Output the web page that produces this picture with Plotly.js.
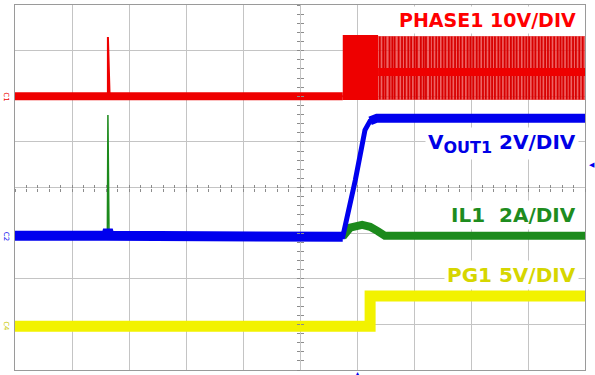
<!DOCTYPE html>
<html>
<head>
<meta charset="utf-8">
<script src="https://cdn.plot.ly/plotly-3.0.1.min.js"></script>
<style>html,body{margin:0;padding:0;background:#fff;}#chart{width:595px;height:375px;}</style>
</head>
<body>
<div id="chart"></div>
<script>
// ---- data (time in divisions, level in divisions from bottom) ----
const channelNames = ["PHASE1 10V/DIV", "V<sub><span style=\"font-size:16px\">OUT1</span></sub> 2V/DIV", "IL1&nbsp;&nbsp;2A/DIV", "PG1 5V/DIV"];

// PHASE1 (red)
const phaseBaseX = [0, 1.60, 1.63, 1.63, 1.66, 5.75];
const phaseBaseY = [6.0, 6.0, 6.0, 7.30, 6.0, 6.0];
const phaseBurstX = [5.75, 6.37, 6.37, 5.75];
const phaseBurstY = [5.92, 5.92, 7.34, 7.34];
const phaseSwitchX = [6.37, 10.0, 10.0, 6.37];
const phaseSwitchY = [5.92, 5.92, 7.32, 7.32];
const phasePulses = [6.40, 6.46, 6.50, 6.57, 6.62, 6.66, 6.73, 6.79, 6.84, 6.90, 6.95, 7.01, 7.05, 7.12,
  7.17, 7.21, 7.28, 7.33, 7.39, 7.44, 7.50, 7.55, 7.61, 7.66, 7.72, 7.77, 7.82, 7.88, 7.94, 7.99,
  8.04, 8.10, 8.15, 8.21, 8.26, 8.32, 8.37, 8.42, 8.48, 8.53, 8.59, 8.64, 8.70, 8.75, 8.80, 8.86,
  8.92, 8.97, 9.02, 9.08, 9.13, 9.19, 9.24, 9.30, 9.35, 9.40, 9.46, 9.52, 9.57, 9.62, 9.68, 9.73,
  9.79, 9.84, 9.90, 9.96];
const pulseLow = 5.93, pulseHigh = 7.31;
const phaseMidX = [6.37, 10.0];
const phaseMidY = [6.53, 6.53];

// VOUT1 (blue)
const voutX = [0, 1.60, 1.63, 1.66, 5.75, 5.97, 6.14, 6.23, 6.35, 10.0];
const voutY = [2.94, 2.94, 3.07, 2.94, 2.92, 4.16, 5.26, 5.46, 5.52, 5.52];

// IL1 (green)
const ilX = [0, 1.61, 1.62, 1.63, 1.64, 1.65, 5.75, 5.88, 6.09, 6.23, 6.37, 6.49, 10.0];
const ilY = [2.92, 2.92, 2.92, 5.59, 2.92, 2.92, 2.92, 3.12, 3.18, 3.14, 3.04, 2.94, 2.94];

// PG1 (yellow)
const pgX = [0, 6.23, 6.23, 10.0];
const pgY = [0.96, 0.96, 1.62, 1.62];

// ---- build pulse segments from the pulse list ----
const pulseX = [], pulseY = [];
phasePulses.forEach(function (t) { pulseX.push(t, t, null); pulseY.push(pulseLow, pulseHigh, null); });

const RED = "#ee0000", BLUE = "#0000ee", GREEN = "#1c8a1c", YEL = "#f2f200";

const traces = [
  {x: phaseSwitchX, y: phaseSwitchY, mode: "lines", fill: "toself", fillcolor: "rgba(232,40,40,0.72)", line: {width: 0}, hoverinfo: "skip"},
  {x: pulseX, y: pulseY, mode: "lines", line: {color: "#d80000", width: 1.8}, hoverinfo: "skip"},
  {x: phaseBurstX, y: phaseBurstY, mode: "lines", fill: "toself", fillcolor: RED, line: {width: 0}, hoverinfo: "skip"},
  {x: phaseMidX, y: phaseMidY, mode: "lines", line: {color: RED, width: 8}, hoverinfo: "skip"},
  {x: phaseBaseX, y: phaseBaseY, mode: "lines", line: {color: RED, width: 2}, hoverinfo: "skip"},
  {x: phaseBaseX.slice(0, 2).concat(phaseBaseX.slice(5)), y: phaseBaseY.slice(0, 2).concat(phaseBaseY.slice(5)), mode: "lines", line: {color: RED, width: 8}, hoverinfo: "skip"},
  {x: pgX, y: pgY, mode: "lines", line: {color: YEL, width: 11}, hoverinfo: "skip"},
  {x: ilX, y: ilY, mode: "lines", line: {color: GREEN, width: 1.5}, hoverinfo: "skip"},
  {x: ilX.slice(6), y: ilY.slice(6), mode: "lines", line: {color: GREEN, width: 8}, hoverinfo: "skip"},
  // VOUT1: thin stroke for the ramp, thick noisy band for the flat parts
  {x: voutX, y: voutY, mode: "lines", line: {color: BLUE, width: 5}, hoverinfo: "skip"},
  {x: voutX.slice(0, 5), y: voutY.slice(0, 5), mode: "lines", line: {color: BLUE, width: 10}, hoverinfo: "skip"},
  {x: voutX.slice(7), y: voutY.slice(7), mode: "lines", line: {color: BLUE, width: 9}, hoverinfo: "skip"},
  {x: [], y: [], xaxis: "x2", yaxis: "y", hoverinfo: "skip"},
  {x: [], y: [], xaxis: "x3", yaxis: "y", hoverinfo: "skip"},
  {x: [], y: [], xaxis: "x", yaxis: "y2", hoverinfo: "skip"},
  {x: [], y: [], xaxis: "x", yaxis: "y3", hoverinfo: "skip"}
];

const tickAx = {range: [0, 10], dtick: 0.2, tick0: 0, ticklen: 3, tickcolor: "#8c8c8c", tickwidth: 1,
  showgrid: false, showline: false, zeroline: false, showticklabels: false, overlaying: "x", anchor: "free", position: 0.5, fixedrange: true};
const tickAy = {range: [0, 8], dtick: 0.2, tick0: 0, ticklen: 3, tickcolor: "#8c8c8c", tickwidth: 1,
  showgrid: false, showline: false, zeroline: false, showticklabels: false, overlaying: "y", anchor: "free", position: 0.5, fixedrange: true};

function label(text, y, color, size) {
  return {text: "<b>" + text + "</b>", x: 9.9, y: y, xref: "x", yref: "y", xanchor: "right", yanchor: "middle",
    showarrow: false, bgcolor: "#ffffff", borderpad: 2,
    font: {family: "DejaVu Sans, Verdana, sans-serif", size: size, weight: "bold", color: color}};
}

const layout = {
  width: 595, height: 375,
  margin: {l: 15, r: 10, t: 5, b: 5},
  paper_bgcolor: "#ffffff", plot_bgcolor: "#ffffff",
  showlegend: false,
  xaxis: {range: [0, 10], dtick: 1, tick0: 0, showgrid: true, gridcolor: "#c4c4c4", gridwidth: 1,
    showline: true, linecolor: "#9a9a9a", linewidth: 1, mirror: true, zeroline: false, showticklabels: false, ticks: "", fixedrange: true},
  yaxis: {range: [0, 8], dtick: 1, tick0: 0, showgrid: true, gridcolor: "#c4c4c4", gridwidth: 1,
    showline: true, linecolor: "#9a9a9a", linewidth: 1, mirror: true, zeroline: false, showticklabels: false, ticks: "", fixedrange: true},
  xaxis2: Object.assign({}, tickAx, {ticks: "outside"}),
  xaxis3: Object.assign({}, tickAx, {ticks: "inside"}),
  yaxis2: Object.assign({}, tickAy, {ticks: "outside"}),
  yaxis3: Object.assign({}, tickAy, {ticks: "inside"}),
  annotations: [
    label(channelNames[0], 7.67, "#ff0000", 19),
    label(channelNames[1], 4.97, "#0000e6", 20),
    label(channelNames[2], 3.40, "#1e8c1e", 20),
    label(channelNames[3], 2.08, "#d6d600", 20),
    {text: "C1", x: 0, y: 6.0, xref: "paper", yref: "y", xanchor: "right", xshift: -3, showarrow: false, textangle: 90, font: {size: 7, color: RED, family: "DejaVu Sans"}},
    {text: "C2", x: 0, y: 2.94, xref: "paper", yref: "y", xanchor: "right", xshift: -3, showarrow: false, textangle: 90, font: {size: 7, color: BLUE, family: "DejaVu Sans"}},
    {text: "C4", x: 0, y: 0.96, xref: "paper", yref: "y", xanchor: "right", xshift: -3, showarrow: false, textangle: 90, font: {size: 7, color: "#c8c800", family: "DejaVu Sans"}},
    {text: "◀", x: 1, y: 4.50, xref: "paper", yref: "y", xanchor: "left", xshift: 2, showarrow: false, font: {size: 7, color: BLUE, family: "DejaVu Sans"}},
    {text: "▴", x: 6.0, y: 0, xref: "x", yref: "paper", yanchor: "top", yshift: 3, showarrow: false, font: {size: 6, color: BLUE, family: "DejaVu Sans"}}
  ]
};

Plotly.newPlot("chart", traces, layout, {displayModeBar: false, staticPlot: true});
</script>
</body>
</html>
